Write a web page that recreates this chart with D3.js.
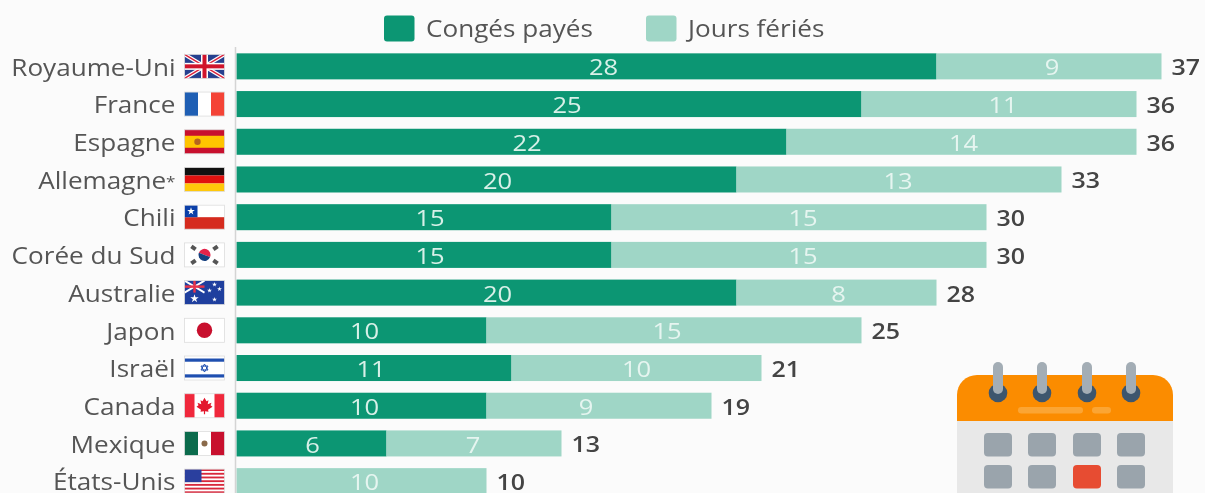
<!DOCTYPE html>
<html lang="fr">
<head>
<meta charset="UTF-8">
<title>Congés payés et jours fériés</title>
<script src="https://cdnjs.cloudflare.com/ajax/libs/d3/7.9.0/d3.min.js"></script>
<style>
    html, body { margin: 0; padding: 0; background: #fbfbfb; overflow: hidden; }
    /* reference is a soft upscaled picture */
    svg { display: block; font-family: "Open Sans", sans-serif; filter: blur(0.45px); }
</style>
</head>
<body>
<svg id="chart" width="1205" height="493"></svg>
<script>
const countries = ["Royaume-Uni", "France", "Espagne", "Allemagne*", "Chili", "Corée du Sud", "Australie", "Japon", "Israël", "Canada", "Mexique", "États-Unis"];
const flags = ["uk", "fr", "es", "de", "cl", "kr", "au", "jp", "il", "ca", "mx", "us"];
const paidLeave = [28, 25, 22, 20, 15, 15, 20, 10, 11, 10, 6, 0];
const publicHolidays = [9, 11, 14, 13, 15, 15, 8, 15, 10, 9, 7, 10];
const seriesNames = ["Congés payés", "Jours fériés"];
const seriesColors = ["#0c9673", "#9fd6c6"];

// the labels are not quite centred in the original, px shifts per row
const paidNudge = [17, 18, 15.5, 11, 6, 6, 11, 3, -3, 3, 1, 0];
const holNudge = [3, 4, 2, -1, 4, 4, 2, -7, 0, -13, -1, 3];

const svg = d3.select("#chart");

const x = d3.scaleLinear().domain([0, 37]).range([236.5, 1161.5]);
const y = d3.scaleBand().domain(countries).range([47.5, 500]).paddingInner(0.31).paddingOuter(0.155);

const rows = countries.map((c, i) => ({ country: c, flag: flags[i], paid: paidLeave[i], hol: publicHolidays[i], pn: paidNudge[i], hn: holNudge[i] }));

// the whole picture is stretched sideways, so the type is too
const stretch = 1.135;
const place = (px, py) => `translate(${px},${py}) scale(${stretch},1)`;

const row = svg.selectAll("g.row").data(rows).join("g").attr("class", "row");

row.append("rect")
    .attr("x", x(0))
    .attr("y", d => y(d.country))
    .attr("width", d => x(d.paid) - x(0))
    .attr("height", y.bandwidth())
    .attr("fill", seriesColors[0]);

row.append("rect")
    .attr("x", d => x(d.paid))
    .attr("y", d => y(d.country))
    .attr("width", d => x(d.paid + d.hol) - x(d.paid))
    .attr("height", y.bandwidth())
    .attr("fill", seriesColors[1]);

const mid = d => y(d.country) + y.bandwidth() / 2 + 1;

row.filter(d => d.paid > 0).append("text")
    .attr("transform", d => place(x(d.paid / 2) + d.pn, mid(d)))
    .attr("dy", "0.36em")
    .attr("text-anchor", "middle")
    .attr("font-size", 22.5)
    .attr("fill", "#d8f0e8")
    .text(d => d.paid);

row.append("text")
    .attr("transform", d => place(x(d.paid + d.hol / 2) + d.hn, mid(d)))
    .attr("dy", "0.36em")
    .attr("text-anchor", "middle")
    .attr("font-size", 22.5)
    .attr("fill", "#e6f5f0")
    .text(d => d.hol);

row.append("text")
    .attr("transform", d => place(x(d.paid + d.hol) + 10, mid(d)))
    .attr("dy", "0.36em")
    .attr("font-size", 22)
    .attr("font-weight", 600)
    .attr("fill", "#444")
    .text(d => d.paid + d.hol);

// baseline
svg.append("line")
    .attr("x1", 235.5).attr("x2", 235.5)
    .attr("y1", 47).attr("y2", 493)
    .attr("stroke", "#d4d4d4").attr("stroke-width", 1.5);

// country labels, the asterisk is set small and raised
const names = row.append("text")
    .attr("transform", d => place(175.5, mid(d)))
    .attr("dy", "0.36em")
    .attr("text-anchor", "end")
    .attr("font-size", 23)
    .attr("fill", "#555");
names.append("tspan").text(d => d.country.replace("*", ""));
names.filter(d => d.country.endsWith("*")).append("tspan")
    .attr("font-size", 15)
    .attr("dy", -2)
    .text("*");

// flags, 40x24 local coordinates
function drawFlag(g, code) {
    const r = (x0, y0, w, h, fill) => g.append("rect").attr("x", x0).attr("y", y0).attr("width", w).attr("height", h).attr("fill", fill);
    const star = (cx, cy, s, fill) => g.append("path").attr("transform", `translate(${cx},${cy})`)
        .attr("d", d3.symbol(d3.symbolStar, s)()).attr("fill", fill);
    const ln = (x1, y1, x2, y2, stroke, w) => g.append("line").attr("x1", x1).attr("y1", y1).attr("x2", x2).attr("y2", y2).attr("stroke", stroke).attr("stroke-width", w);
    r(0, 0, 40, 24, "#fff");
    if (code === "uk") {
        r(0, 0, 40, 24, "#26408f");
        ln(0, 0, 40, 24, "#fff", 4); ln(40, 0, 0, 24, "#fff", 4);
        ln(0, 0, 40, 24, "#d9203a", 1.4); ln(40, 0, 0, 24, "#d9203a", 1.4);
        r(0, 8.5, 40, 7, "#fff"); r(16.5, 0, 7, 24, "#fff");
        r(0, 10, 40, 4, "#d0142c"); r(18, 0, 4, 24, "#d0142c");
    } else if (code === "fr") {
        r(0, 0, 13.5, 24, "#1f5fb4"); r(26.5, 0, 13.5, 24, "#f44336");
    } else if (code === "es") {
        r(0, 0, 40, 24, "#c8102e"); r(0, 6, 40, 12, "#ffc400");
        g.append("circle").attr("cx", 13).attr("cy", 12).attr("r", 3.2).attr("fill", "#b5651d");
    } else if (code === "de") {
        r(0, 0, 40, 8, "#111"); r(0, 8, 40, 8, "#e0110f"); r(0, 16, 40, 8, "#ffc80a");
    } else if (code === "cl") {
        r(0, 12, 40, 12, "#d52b1e"); r(0, 0, 13, 12, "#0b3fa8"); star(6.5, 6, 18, "#fff");
    } else if (code === "kr") {
        g.append("path").attr("transform", "translate(20,12)").attr("d", d3.arc()({ innerRadius: 0, outerRadius: 6, startAngle: -1.2, endAngle: 1.95 })).attr("fill", "#e4234a");
        g.append("path").attr("transform", "translate(20,12)").attr("d", d3.arc()({ innerRadius: 0, outerRadius: 6, startAngle: 1.95, endAngle: 5.08 })).attr("fill", "#16407f");
        [[9, 5, 35], [31, 5, -35], [9, 19, -35], [31, 19, 35]].forEach(p => {
            g.append("rect").attr("x", -2.6).attr("y", -2).attr("width", 5.2).attr("height", 4)
                .attr("transform", `translate(${p[0]},${p[1]}) rotate(${p[2]})`).attr("fill", "#555");
        });
    } else if (code === "au") {
        r(0, 0, 40, 24, "#1f3f9e");
        ln(0, 0, 20, 12, "#fff", 1.8); ln(20, 0, 0, 12, "#fff", 1.8);
        r(0, 4.8, 20, 2.4, "#e8344a"); r(8.8, 0, 2.4, 12, "#e8344a");
        star(10, 18, 22, "#fff"); star(30, 4, 7, "#fff"); star(30, 19, 7, "#fff"); star(25, 10, 7, "#fff"); star(35, 8.5, 7, "#fff");
    } else if (code === "jp") {
        g.append("circle").attr("cx", 20).attr("cy", 12).attr("r", 7.7).attr("fill", "#c8102e");
    } else if (code === "il") {
        r(0, 2.5, 40, 3.2, "#1f4fb0"); r(0, 18.3, 40, 3.2, "#1f4fb0");
        g.append("path").attr("transform", "translate(20,12)").attr("d", "M0-4L3.5 2H-3.5ZM0 4L3.5-2H-3.5Z").attr("fill", "none").attr("stroke", "#1f4fb0").attr("stroke-width", 1);
    } else if (code === "ca") {
        r(0, 0, 10, 24, "#f0283c"); r(30, 0, 10, 24, "#f0283c");
        g.append("path").attr("transform", "translate(20,12)").attr("d", "M0-8L2-4.5L4-5.5L3.2-1.5L7-3L6-.5L8 1L3.5 4L4 6L.6 5.4V8.5H-.6V5.4L-4 6L-3.5 4L-8 1L-6-.5L-7-3L-3.2-1.5L-4-5.5L-2-4.5Z").attr("fill", "#e3172d");
    } else if (code === "mx") {
        r(0, 0, 13.5, 24, "#0b6b4c"); r(26.5, 0, 13.5, 24, "#c8102e");
        g.append("circle").attr("cx", 20).attr("cy", 12).attr("r", 3).attr("fill", "#8a6a4a");
    } else if (code === "us") {
        d3.range(7).forEach(i => r(0, i * 3.7, 40, 1.85, "#d8283c"));
        r(0, 0, 17, 13, "#2a3f9e");
    }
}

const flagG = row.append("g")
    .attr("transform", d => `translate(184.5,${mid(d) - 13})`);
flagG.each(function (d) { drawFlag(d3.select(this), d.flag); });
flagG.append("rect")
    .attr("width", 40).attr("height", 24)
    .attr("fill", "none").attr("stroke", "#ddd").attr("stroke-width", 0.8);

// legend
const legendX = [384, 646];
const legend = svg.selectAll("g.legend").data(seriesNames).join("g").attr("class", "legend")
    .attr("transform", (d, i) => `translate(${legendX[i]},15.5)`);
legend.append("rect").attr("width", 30.5).attr("height", 26).attr("rx", 3)
    .attr("fill", (d, i) => seriesColors[i]);
legend.append("text").attr("transform", place(42, 13)).attr("dy", "0.36em")
    .attr("font-size", 23).attr("fill", "#555").text(d => d);

// calendar icon
const cal = svg.append("g").attr("transform", "translate(957,375)");
cal.append("rect").attr("y", 45).attr("width", 216).attr("height", 100).attr("fill", "#e8e8e8");
cal.append("path").attr("d", "M0 46V20A20 20 0 0 1 20 0H196A20 20 0 0 1 216 20V46Z").attr("fill", "#fb8c00");
cal.append("rect").attr("x", 61).attr("y", 32).attr("width", 65).attr("height", 6.5).attr("rx", 3.2).attr("fill", "#fba533");
cal.append("rect").attr("x", 135).attr("y", 32).attr("width", 19).attr("height", 6.5).attr("rx", 3.2).attr("fill", "#fba533");
const calCols = [41, 85, 130, 174];
calCols.forEach(cx => {
    cal.append("circle").attr("cx", cx).attr("cy", 18).attr("r", 9.3).attr("fill", "#3d566e");
    cal.append("rect").attr("x", cx - 5).attr("y", -13).attr("width", 10).attr("height", 32).attr("rx", 5).attr("fill", "#a3adb5");
});
[58, 90].forEach((ry, j) => calCols.forEach((cx, i) => {
    cal.append("rect").attr("x", cx - 14).attr("y", ry).attr("width", 28).attr("height", 23.5).attr("rx", 4)
        .attr("fill", j === 1 && i === 2 ? "#e74c32" : "#9aa4ac");
}));
</script>
</body>
</html>
